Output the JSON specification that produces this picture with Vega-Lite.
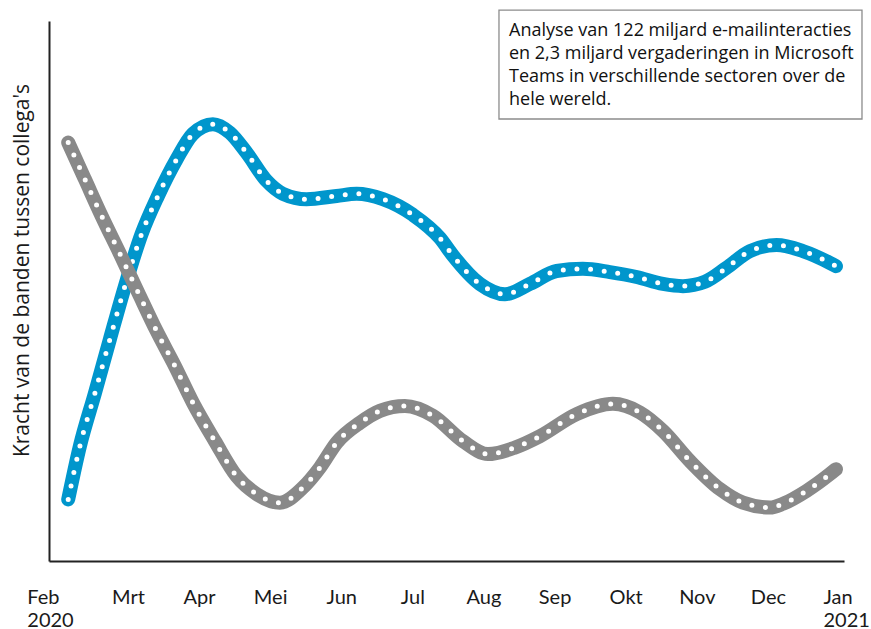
{
  "$schema": "https://vega.github.io/schema/vega-lite/v6.json",
  "width": 795,
  "height": 540,
  "autosize": {"type": "none"},
  "padding": {"left": 49, "top": 21, "right": 27, "bottom": 68},
  "background": "white",
  "config": {"view": {"stroke": null}},
  "datasets": {
    "notitie": [{"x0": 6.218, "x1": 11.323, "y0": 102.0, "y1": 81.85, "tx": 6.359, "ty": 97.2}]
  },
  "data": {"values": [
    {"s": "blauw", "x": 0.160, "y": 11.4},
    {"s": "blauw", "x": 0.325, "y": 21.3},
    {"s": "blauw", "x": 0.536, "y": 31.1},
    {"s": "blauw", "x": 0.747, "y": 41.1},
    {"s": "blauw", "x": 0.958, "y": 50.9},
    {"s": "blauw", "x": 1.193, "y": 60.6},
    {"s": "blauw", "x": 1.422, "y": 67.6},
    {"s": "blauw", "x": 1.685, "y": 74.4},
    {"s": "blauw", "x": 1.914, "y": 79.1},
    {"s": "blauw", "x": 2.195, "y": 80.9},
    {"s": "blauw", "x": 2.434, "y": 79.3},
    {"s": "blauw", "x": 2.669, "y": 75.6},
    {"s": "blauw", "x": 2.950, "y": 70.4},
    {"s": "blauw", "x": 3.180, "y": 68.0},
    {"s": "blauw", "x": 3.513, "y": 67.0},
    {"s": "blauw", "x": 3.935, "y": 67.6},
    {"s": "blauw", "x": 4.216, "y": 68.0},
    {"s": "blauw", "x": 4.586, "y": 67.0},
    {"s": "blauw", "x": 5.008, "y": 64.1},
    {"s": "blauw", "x": 5.388, "y": 59.8},
    {"s": "blauw", "x": 5.574, "y": 56.5},
    {"s": "blauw", "x": 5.950, "y": 51.3},
    {"s": "blauw", "x": 6.302, "y": 49.4},
    {"s": "blauw", "x": 6.652, "y": 51.3},
    {"s": "blauw", "x": 7.028, "y": 53.7},
    {"s": "blauw", "x": 7.398, "y": 54.1},
    {"s": "blauw", "x": 7.778, "y": 53.5},
    {"s": "blauw", "x": 8.153, "y": 52.6},
    {"s": "blauw", "x": 8.524, "y": 51.3},
    {"s": "blauw", "x": 8.805, "y": 50.9},
    {"s": "blauw", "x": 9.114, "y": 51.7},
    {"s": "blauw", "x": 9.419, "y": 54.3},
    {"s": "blauw", "x": 9.747, "y": 57.4},
    {"s": "blauw", "x": 10.122, "y": 58.5},
    {"s": "blauw", "x": 10.492, "y": 57.4},
    {"s": "blauw", "x": 10.872, "y": 55.2},
    {"s": "blauw", "x": 10.957, "y": 54.6},
    {"s": "grijs", "x": 0.160, "y": 77.5},
    {"s": "grijs", "x": 0.395, "y": 70.7},
    {"s": "grijs", "x": 0.630, "y": 63.9},
    {"s": "grijs", "x": 0.887, "y": 56.9},
    {"s": "grijs", "x": 1.145, "y": 49.7},
    {"s": "grijs", "x": 1.403, "y": 42.6},
    {"s": "grijs", "x": 1.661, "y": 36.1},
    {"s": "grijs", "x": 1.914, "y": 29.3},
    {"s": "grijs", "x": 2.223, "y": 22.2},
    {"s": "grijs", "x": 2.528, "y": 15.7},
    {"s": "grijs", "x": 2.810, "y": 12.4},
    {"s": "grijs", "x": 3.137, "y": 10.8},
    {"s": "grijs", "x": 3.461, "y": 13.6},
    {"s": "grijs", "x": 3.700, "y": 17.3},
    {"s": "grijs", "x": 3.935, "y": 21.9},
    {"s": "grijs", "x": 4.263, "y": 25.6},
    {"s": "grijs", "x": 4.544, "y": 27.8},
    {"s": "grijs", "x": 4.896, "y": 28.7},
    {"s": "grijs", "x": 5.289, "y": 26.9},
    {"s": "grijs", "x": 5.711, "y": 22.2},
    {"s": "grijs", "x": 6.062, "y": 19.8},
    {"s": "grijs", "x": 6.442, "y": 21.0},
    {"s": "grijs", "x": 6.793, "y": 23.1},
    {"s": "grijs", "x": 7.310, "y": 27.2},
    {"s": "grijs", "x": 7.820, "y": 29.1},
    {"s": "grijs", "x": 8.200, "y": 27.5},
    {"s": "grijs", "x": 8.524, "y": 24.1},
    {"s": "grijs", "x": 8.904, "y": 18.5},
    {"s": "grijs", "x": 9.326, "y": 13.3},
    {"s": "grijs", "x": 9.649, "y": 10.8},
    {"s": "grijs", "x": 10.029, "y": 9.9},
    {"s": "grijs", "x": 10.212, "y": 10.6},
    {"s": "grijs", "x": 10.545, "y": 13.0},
    {"s": "grijs", "x": 10.872, "y": 16.1},
    {"s": "grijs", "x": 10.957, "y": 17.0}
  ]},
  "layer": [
    {
      "encoding": {
        "x": {
          "field": "x", "type": "quantitative",
          "scale": {"domain": [-0.11, 11.07], "nice": false, "zero": false},
          "axis": {
            "title": null,
            "values": [0, 1, 2, 3, 4, 5, 6, 7, 8, 9, 10, 11],
            "labelExpr": "datum.value == 0 ? ['Feb', '2020'] : datum.value == 11 ? ['Jan', '2021'] : ['', 'Mrt', 'Apr', 'Mei', 'Jun', 'Jul', 'Aug', 'Sep', 'Okt', 'Nov', 'Dec'][datum.value]",
            "grid": false, "ticks": false,
            "domainColor": "#222", "domainWidth": 2,
            "labelFont": "Lato", "labelFontSize": 20, "labelColor": "#1a1a1a",
            "labelPadding": 42, "labelLineHeight": 23, "labelBaseline": "alphabetic",
            "labelFlush": false, "labelOverlap": false, "labelBound": false,
            "labelAlign": {"condition": {"test": "datum.value == 0 || datum.value == 11", "value": "left"}, "value": "center"},
            "labelOffset": {"condition": [{"test": "datum.value == 0", "value": -30}, {"test": "datum.value == 11", "value": -16}], "value": 0}
          }
        },
        "y": {
          "field": "y", "type": "quantitative",
          "scale": {"domain": [0, 100], "nice": false},
          "axis": {
            "title": "Kracht van de banden tussen collega's",
            "labels": false, "ticks": false, "grid": false,
            "domainColor": "#222", "domainWidth": 2,
            "titleFont": "Open Sans", "titleFontSize": 21, "titleFontWeight": "normal", "titleColor": "#1a1a1a",
            "titleX": -21, "titleY": 249, "titleAngle": -90, "titleAlign": "center", "titleBaseline": "alphabetic"
          }
        }
      },
      "layer": [
        {
          "transform": [{"filter": "datum.s == 'blauw'"}],
          "mark": {"type": "line", "interpolate": "monotone", "color": "#0096cc", "strokeWidth": 14, "strokeCap": "round", "strokeJoin": "round"}
        },
        {
          "transform": [{"filter": "datum.s == 'blauw'"}],
          "mark": {"type": "line", "interpolate": "monotone", "color": "white", "strokeWidth": 5, "strokeCap": "round", "strokeDash": [0, 13.7]}
        },
        {
          "transform": [{"filter": "datum.s == 'grijs'"}],
          "mark": {"type": "line", "interpolate": "monotone", "color": "#898989", "strokeWidth": 14, "strokeCap": "round", "strokeJoin": "round"}
        },
        {
          "transform": [{"filter": "datum.s == 'grijs'"}],
          "mark": {"type": "line", "interpolate": "monotone", "color": "white", "strokeWidth": 5, "strokeCap": "round", "strokeDash": [0, 13.7]}
        }
      ]
    },
    {
      "data": {"name": "notitie"},
      "mark": {"type": "rect", "fill": "white", "stroke": "#8c8c8c", "strokeWidth": 1.3},
      "encoding": {
        "x": {"field": "x0", "type": "quantitative"},
        "x2": {"field": "x1"},
        "y": {"field": "y0", "type": "quantitative"},
        "y2": {"field": "y1"}
      }
    },
    {
      "data": {"name": "notitie"},
      "mark": {
        "type": "text",
        "text": ["Analyse van 122 miljard e-mailinteracties", "en 2,3 miljard vergaderingen in Microsoft", "Teams in verschillende sectoren over de", "hele wereld."],
        "font": "Open Sans", "fontSize": 18, "lineHeight": 23, "align": "left", "baseline": "alphabetic", "color": "#111"
      },
      "encoding": {
        "x": {"field": "tx", "type": "quantitative"},
        "y": {"field": "ty", "type": "quantitative"}
      }
    }
  ]
}
